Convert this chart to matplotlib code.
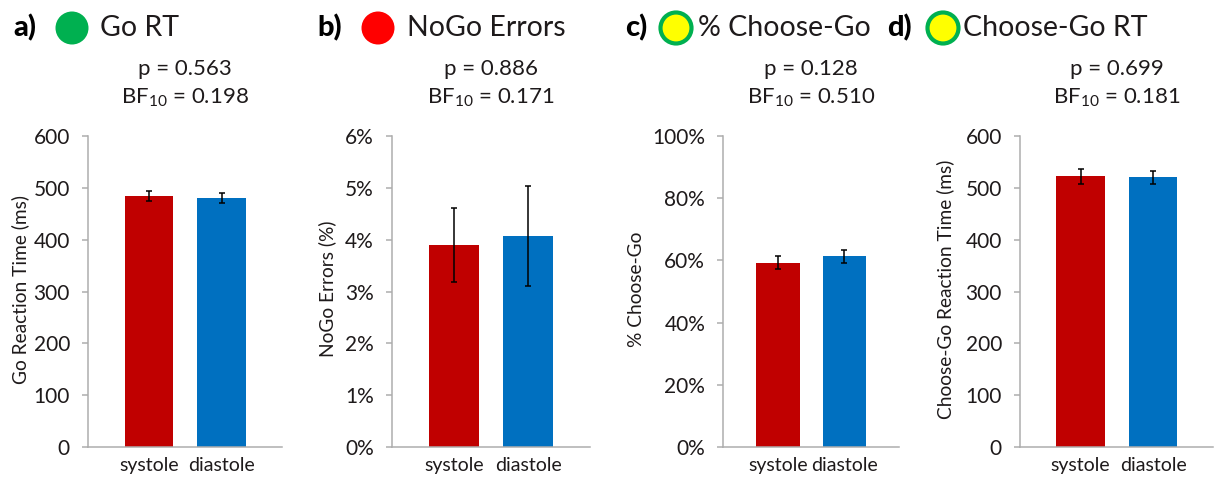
import matplotlib
matplotlib.use("Agg")
import matplotlib.pyplot as plt
from matplotlib.patches import Ellipse
from matplotlib.ticker import FuncFormatter

plt.rcParams['font.family'] = ['Lato', 'DejaVu Sans']
plt.rcParams['mathtext.default'] = 'regular'

# ---- data ----
conditions = ["systole", "diastole"]
go_rt = [484, 481]
go_rt_err = [10, 9.5]
nogo_errors = [3.90, 4.07]
nogo_errors_err = [0.72, 0.97]
choose_go_pct = [59.3, 61.3]
choose_go_pct_err = [2.1, 2.0]
choose_go_rt = [522, 520]
choose_go_rt_err = [14, 13]

p_values = ["0.563", "0.886", "0.128", "0.699"]
bf10_values = ["0.198", "0.171", "0.510", "0.181"]
panel_letters = ["a)", "b)", "c)", "d)"]
panel_titles = ["Go RT", "NoGo Errors", "% Choose-Go", "Choose-Go RT"]
y_labels = ["Go Reaction Time (ms)", "NoGo Errors (%)", "% Choose-Go",
            "Choose-Go Reaction Time (ms)"]

bar_colors = ["#C00000", "#0070C0"]
text_color = "#1E1A1B"
spine_color = "#ADADAD"

W, H = 1225, 479
fig = plt.figure(figsize=(W / 100, H / 100), dpi=100)

# axes placement in pixels: (left, right)
ax_px = [(88, 282), (391.7, 590), (723.3, 899.3), (1020, 1213.3)]
y_top_px, y_bot_px = 136, 447

panels = [
    (go_rt, go_rt_err, (0, 600), [0, 100, 200, 300, 400, 500, 600], "{:.0f}"),
    (nogo_errors, nogo_errors_err, (0, 6), [0, 1, 2, 3, 4, 5, 6], "{:.0f}%"),
    (choose_go_pct, choose_go_pct_err, (0, 100), [0, 20, 40, 60, 80, 100], "{:.0f}%"),
    (choose_go_rt, choose_go_rt_err, (0, 600), [0, 100, 200, 300, 400, 500, 600], "{:.0f}"),
]

ylabel_x_px = [20, 327, 637, 945]

for i, (vals, errs, ylim, ticks, fmt) in enumerate(panels):
    l, r = ax_px[i]
    ax = fig.add_axes([l / W, 1 - y_bot_px / H, (r - l) / W, (y_bot_px - y_top_px) / H])
    x = list(range(len(conditions)))
    ax.bar(x, vals, width=0.665, color=bar_colors, edgecolor='none', zorder=2)
    ax.errorbar(x, vals, yerr=errs, fmt='none', ecolor='black', elinewidth=1.1,
                capsize=2.2, capthick=1.1, zorder=3)
    ax.set_xlim(-0.835, 1.83)
    ax.set_ylim(*ylim)
    ax.set_yticks(ticks)
    ax.yaxis.set_major_formatter(FuncFormatter(lambda v, pos, f=fmt: f.format(v)))
    ax.set_xticks(x)
    ax.set_xticklabels(conditions, fontsize=14, color=text_color)
    ax.tick_params(axis='x', length=0, pad=7)
    ax.tick_params(axis='y', length=4, width=1.1, color=spine_color, pad=9,
                   labelsize=15, labelcolor=text_color)
    for s in ['top', 'right']:
        ax.spines[s].set_visible(False)
    for s in ['left', 'bottom']:
        ax.spines[s].set_color(spine_color)
        ax.spines[s].set_linewidth(1.1)
    # ylabel in figure coords
    fig.text(ylabel_x_px[i] / W, 1 - 289 / H, y_labels[i],
             rotation=90, ha='center', va='center', fontsize=13.8, color=text_color)
    # stats text
    cx = (l + r) / 2 / W
    fig.text(cx, 1 - 69 / H, "p = " + p_values[i], ha='center', va='center',
             fontsize=16, color=text_color)
    fig.text(cx, 1 - 98 / H, "BF$_{10}$ = " + bf10_values[i], ha='center', va='center',
             fontsize=16, color=text_color)

# headers
letter_x = [13, 317, 625, 887]
circle_x = [72, 378, 676, 943]
title_x = [100, 407, 698, 963]
circle_face = ["#00B050", "#FF0000", "#FFFF00", "#FFFF00"]
circle_edge = ["none", "none", "#00B050", "#00B050"]
circle_lw = [0, 0, 3.0, 3.0]
hy = 28
for i in range(4):
    fig.text(letter_x[i] / W, 1 - hy / H, panel_letters[i], ha='left', va='center',
             fontsize=21, fontweight='black', color='black')
    d = 31 if circle_lw[i] > 0 else 33
    e = Ellipse((circle_x[i] / W, 1 - hy / H), d / W, d / H, transform=fig.transFigure,
                facecolor=circle_face[i], edgecolor=circle_edge[i], linewidth=circle_lw[i])
    fig.add_artist(e)
    fig.text(title_x[i] / W, 1 - hy / H, panel_titles[i], ha='left', va='center',
             fontsize=20.5, color=text_color)

fig.savefig("out.png", dpi=100, facecolor='white')
